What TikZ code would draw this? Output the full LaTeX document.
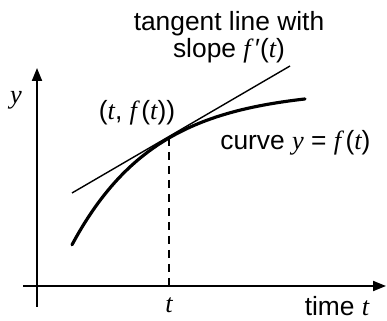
\documentclass[tikz,border=0pt]{standalone}
\usepackage{fontspec}
\setmainfont{Liberation Sans}
\newfontfamily\timesfont{Liberation Serif}
\usetikzlibrary{arrows.meta, positioning, calc}
\newcommand{\var}[1]{{\timesfont\itshape #1}}

\begin{document}
\begin{tikzpicture}[
    axis/.style={line width=1.1pt, -{Triangle[length=2.6mm, width=2mm]}},
    curveline/.style={line width=1.8pt, line cap=round},
    tanline/.style={line width=0.8pt},
    guide/.style={line width=1pt, dash pattern=on 1.6mm off 1.2mm},
    lbl/.style={font=\fontsize{15}{15.5}\selectfont, inner sep=0pt}
  ]
    \useasboundingbox (-0.74,-0.7) rectangle (7.0,5.72);
    % axes
    \coordinate (origin) at (0,0);
    \coordinate (xstart) at (-0.28,0);
    \coordinate (xend) at (6.98,0);
    \coordinate (ystart) at (0,-0.42);
    \coordinate (yend) at (0,4.36);
    \draw[axis] (xstart) -- (xend);
    \draw[axis] (ystart) -- (yend);

    % curve and its tangent
    \coordinate (tp) at (2.64,2.96);
    \coordinate (tstart) at (0.70,1.86);
    \coordinate (tend) at (5.06,4.40);
    \draw[curveline, domain=0.70:5.36, samples=60, smooth]
      plot (\x, {3.93-4.727*exp(-0.6*\x)});
    \draw[tanline] (tstart) -- (tend);
    \draw[guide] (tp) -- (tp |- origin);

    % labels
    \node[lbl] (ylbl) at (-0.42,3.72) {\var{y}};
    \node[lbl] (tick) at (2.64,-0.38) {\var{t}};
    \node[lbl] (xlbl) at (6.0,-0.40) {time \var{t}};
    \node[lbl] (pt) at (2.0,3.46) {(\var{t}, \var{f}\,(\var{t}))};
    \node[lbl, anchor=base west] (crv) at (3.66,2.72)
      {curve \var{y} = \var{f}\,(\var{t})};
    \node[lbl, align=center, anchor=north] (tan) at (3.84,5.5)
      {tangent line with\\slope \var{f}\,′(\var{t})};
  \end{tikzpicture}
\end{document}
